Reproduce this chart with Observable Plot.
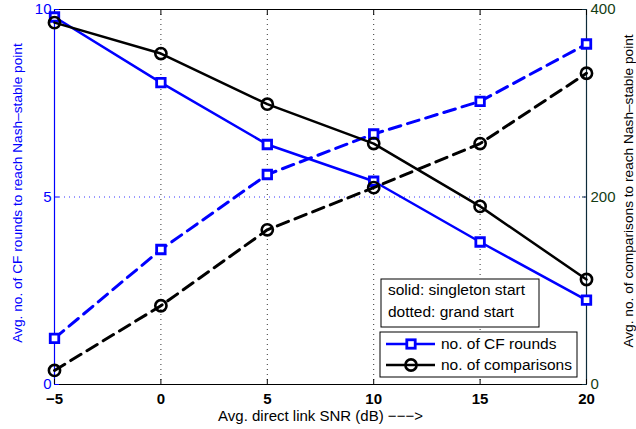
<!DOCTYPE html>
<html><head><meta charset="utf-8">
<script src="https://cdn.jsdelivr.net/npm/d3@7"></script>
<script src="https://cdn.jsdelivr.net/npm/@observablehq/plot@0.6"></script>
<style>
body{margin:0;background:#fff;}
#chart{position:relative;width:636px;height:429px;}
</style>
</head><body><div id="chart"></div>
<script>
// ---- data ----
const snr = [-5, 0, 5, 10, 15, 20];
const cfSingleton = [9.8, 8.05, 6.4, 5.42, 3.8, 2.25];
const cfGrand = [1.23, 3.6, 5.6, 6.68, 7.55, 9.08];
const cmpSingleton = [386, 353, 299, 257, 190, 112];
const cmpGrand = [15, 84, 165, 210, 257, 332];
const xTicks = [-5, 0, 5, 10, 15, 20];
const leftTicks = [0, 5, 10];
const rightTicks = [0, 200, 400];
const xLabel = "Avg. direct link SNR (dB) −−−>";
const leftLabel = "Avg. no. of CF rounds to reach Nash–stable point";
const rightLabel = "Avg. no. of comparisons to reach Nash–stable point";
const noteLines = ["solid: singleton start", "dotted: grand start"];
const seriesNames = ["no. of CF rounds", "no. of comparisons"];
const ratio = 40; // right-axis units per left-axis unit

const BLUE = "#0000ff", BLACK = "#000000", GREEN = "#143c14", RAXIS = "#0d2b3a";
const FONT = "'Liberation Sans', Arial, Helvetica, sans-serif";
const rows = (ys, k = 1) => snr.map((x, i) => ({x, y: ys[i] / k}));

const cfS = rows(cfSingleton), cfG = rows(cfGrand);
const cmS = rows(cmpSingleton, ratio), cmG = rows(cmpGrand, ratio);

const lineW = 2.5, dash = "12,7";
const sq = {x: "x", y: "y", symbol: "square", r: 4.8, stroke: BLUE, fill: "white", strokeWidth: 2.8};
const ci = {x: "x", y: "y", symbol: "circle", r: 5.6, stroke: BLACK, fill: "none", strokeWidth: 2.6};

const plot = Plot.plot({
  width: 636, height: 429,
  marginLeft: 54, marginRight: 50, marginTop: 9, marginBottom: 45,
  style: {fontFamily: FONT, fontSize: "15px", background: "white", overflow: "visible"},
  x: {domain: [-5, 20]},
  y: {domain: [0, 10]},
  marks: [
    Plot.ruleX([0, 5, 10, 15], {stroke: "#333", strokeWidth: 1, strokeDasharray: "1,4"}),
    Plot.ruleY([5], {stroke: BLUE, strokeOpacity: 0.8, strokeWidth: 1, strokeDasharray: "1,4"}),
    Plot.ruleY([0, 10], {stroke: BLACK, strokeWidth: 1.2}),
    Plot.ruleX([-5], {stroke: BLUE, strokeWidth: 1.2}),
    Plot.ruleX([20], {stroke: RAXIS, strokeWidth: 1.2}),
    // inward ticks
    Plot.axisX({anchor: "bottom", ticks: xTicks, tickSize: -5, tickFormat: () => "", label: null}),
    Plot.axisX({anchor: "top", ticks: xTicks, tickSize: -5, tickFormat: () => "", label: null}),
    Plot.axisY({anchor: "left", ticks: leftTicks, tickSize: -5, tickFormat: () => "", stroke: BLUE, label: null}),
    Plot.axisY({anchor: "right", ticks: rightTicks.map(v => v / ratio), tickSize: -5, tickFormat: () => "", stroke: RAXIS, label: null}),
    // tick labels
    Plot.axisX({anchor: "bottom", ticks: xTicks, tickSize: 0, tickPadding: 9, fontWeight: "bold", fontSize: 15, fill: BLACK, label: null}),
    Plot.axisY({anchor: "left", ticks: leftTicks, tickSize: 0, tickPadding: 3, fontSize: 15, fill: BLUE, label: null}),
    Plot.axisY({anchor: "right", ticks: rightTicks.map(v => v / ratio), tickSize: 0, tickPadding: 4,
      tickFormat: d => String(Math.round(d * ratio)), fontSize: 15, fill: GREEN, label: null}),
    // axis titles
    Plot.text([xLabel], {frameAnchor: "bottom", dy: 32, text: d => d, fontSize: 15, fill: BLACK, lineAnchor: "middle", textAnchor: "middle"}),
    Plot.text([leftLabel], {frameAnchor: "left", dx: -37, dy: -4, rotate: -90, text: d => d, fontSize: 13.7, fill: BLUE, lineAnchor: "middle", textAnchor: "middle"}),
    Plot.text([rightLabel], {frameAnchor: "right", dx: 42, dy: -6, rotate: -90, text: d => d, fontSize: 13.7, fill: BLACK, lineAnchor: "middle", textAnchor: "middle"}),
    // series
    Plot.line(cfS, {x: "x", y: "y", stroke: BLUE, strokeWidth: lineW}),
    Plot.line(cfG, {x: "x", y: "y", stroke: BLUE, strokeWidth: 3, strokeDasharray: dash}),
    Plot.dot(cfS, sq),
    Plot.dot(cfG, sq),
    Plot.line(cmS, {x: "x", y: "y", stroke: BLACK, strokeWidth: lineW}),
    Plot.line(cmG, {x: "x", y: "y", stroke: BLACK, strokeWidth: 3, strokeDasharray: dash}),
    Plot.dot(cmS, ci),
    Plot.dot(cmG, ci)
  ]
});
document.getElementById("chart").appendChild(plot);

// ---- legends ----
const svg = d3.select(plot);
const g = svg.append("g").attr("font-family", FONT).attr("font-size", 15.5).attr("text-anchor", "start");
// note box
g.append("rect").attr("x", 381).attr("y", 279).attr("width", 158).attr("height", 48)
  .attr("fill", "white").attr("stroke", BLACK).attr("stroke-width", 1);
noteLines.forEach((t, i) => {
  g.append("text").attr("x", 388).attr("y", 290 + i * 22).attr("dy", "0.35em").attr("fill", BLACK).text(t);
});
// series box
g.append("rect").attr("x", 380).attr("y", 332).attr("width", 197).attr("height", 45)
  .attr("fill", "white").attr("stroke", BLACK).attr("stroke-width", 1);
seriesNames.forEach((t, i) => {
  const y = 344 + i * 21;
  const col = i === 0 ? BLUE : BLACK;
  g.append("line").attr("x1", 386).attr("x2", 435).attr("y1", y).attr("y2", y)
    .attr("stroke", col).attr("stroke-width", lineW);
  if (i === 0) {
    g.append("rect").attr("x", 411 - 4.2).attr("y", y - 4.2).attr("width", 8.4).attr("height", 8.4)
      .attr("fill", "white").attr("stroke", BLUE).attr("stroke-width", 2.8);
  } else {
    g.append("circle").attr("cx", 411).attr("cy", y).attr("r", 5.6)
      .attr("fill", "none").attr("stroke", BLACK).attr("stroke-width", 2.6);
  }
  g.append("text").attr("x", 441).attr("y", y).attr("dy", "0.35em").attr("fill", BLACK).text(t);
});
</script>
</body></html>
